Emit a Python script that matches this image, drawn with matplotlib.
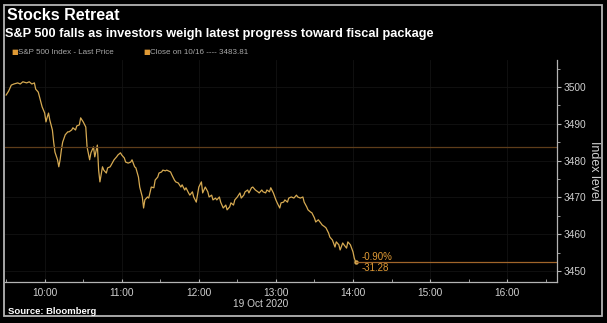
import pandas as pd
import matplotlib
matplotlib.use("Agg")
import matplotlib.pyplot as plt
import matplotlib.dates as mdates
from matplotlib.patches import Rectangle
from matplotlib.ticker import MultipleLocator

session_day = "2020-10-19"
session_open = "09:30"

# minutes after the open, with the S&P 500 print at that minute
minutes = [0, 2, 4, 6, 9, 11, 13, 16, 18, 20,
           22, 23, 25, 26, 28, 30, 31, 32, 33, 34,
           36, 37, 38, 40, 41, 42, 43, 44, 46, 48,
           49, 51, 52, 54, 55, 57, 58, 60, 62, 63,
           65, 66, 68, 69, 71, 72, 73, 75, 76, 78,
           79, 81, 83, 84, 86, 87, 89, 90, 92, 93,
           95, 97, 98, 100, 101, 103, 104, 106, 107, 108,
           110, 111, 113, 115, 116, 118, 119, 121, 122, 124,
           125, 128, 129, 131, 132, 134, 136, 137, 139, 140,
           142, 143, 145, 146, 148, 150, 152, 153, 155, 157,
           158, 160, 161, 163, 164, 166, 167, 169, 171, 172,
           174, 175, 177, 178, 180, 182, 183, 185, 186, 188,
           189, 191, 192, 194, 196, 197, 199, 200, 202, 203,
           205, 206, 208, 210, 211, 213, 214, 216, 217, 219,
           220, 222, 224, 226, 227, 229, 231, 232, 234, 235,
           237, 238, 240, 241, 243, 245, 246, 248, 249, 251,
           252, 254, 256, 257, 259, 260, 262, 263, 265, 266,
           268, 270, 271, 272]
prices = [3497.8, 3498.9, 3500.5, 3500.8, 3501.1, 3500.8, 3501.4, 3501.1, 3501.4, 3500.8,
          3501.1, 3499.4, 3498.6, 3497.3, 3494.6, 3492.9, 3490.5, 3491.8, 3492.9, 3491.0,
          3488.3, 3485.0, 3482.3, 3480.2, 3478.3, 3480.2, 3482.9, 3485.0, 3487.0, 3487.8,
          3487.8, 3488.3, 3488.9, 3488.3, 3489.4, 3489.7, 3491.6, 3490.5, 3489.1, 3483.7,
          3480.2, 3482.1, 3483.7, 3481.0, 3484.2, 3477.4, 3474.2, 3478.3, 3477.4, 3476.6,
          3478.0, 3478.3, 3479.6, 3480.2, 3481.0, 3481.5, 3482.1, 3481.5, 3480.7, 3479.6,
          3479.3, 3479.6, 3480.2, 3478.3, 3478.0, 3475.5, 3472.8, 3470.1, 3467.1, 3469.3,
          3470.1, 3469.8, 3472.8, 3472.6, 3474.7, 3475.5, 3476.6, 3476.9, 3477.4, 3477.2,
          3477.4, 3476.9, 3476.1, 3474.7, 3474.2, 3473.9, 3472.8, 3473.4, 3472.0, 3472.6,
          3471.2, 3470.6, 3471.5, 3470.1, 3468.7, 3472.8, 3474.2, 3471.2, 3472.8, 3471.5,
          3470.1, 3470.6, 3469.3, 3469.8, 3469.3, 3470.1, 3468.7, 3467.1, 3467.9, 3466.6,
          3467.4, 3468.5, 3467.9, 3469.3, 3470.1, 3471.2, 3469.8, 3470.6, 3471.5, 3472.0,
          3471.2, 3472.6, 3472.8, 3472.0, 3471.5, 3471.2, 3472.0, 3471.5, 3471.2, 3472.0,
          3471.5, 3472.6, 3471.2, 3469.3, 3468.5, 3467.1, 3468.5, 3468.7, 3469.3, 3468.7,
          3469.8, 3470.1, 3469.8, 3470.6, 3470.1, 3469.8, 3470.1, 3468.7, 3467.4, 3466.6,
          3466.0, 3465.8, 3464.4, 3463.3, 3463.9, 3463.0, 3462.5, 3462.0, 3461.7, 3460.3,
          3459.2, 3458.4, 3456.5, 3457.9, 3457.1, 3455.7, 3457.6, 3457.1, 3456.2, 3457.9,
          3457.1, 3455.2, 3453.5, 3452.53]

prev_close = 3483.81
prev_close_day = "10/16"

LINE = "#d6aa52"
ORANGE = "#e09a35"
CLOSE = "#5e3d1a"
TEXT = "#d0d0d0"
FRAME = "#b4b4b4"

start = pd.Timestamp(f"{session_day} {session_open}")
times = start + pd.to_timedelta(minutes, unit="min")
last_price = prices[-1]
change = last_price - prev_close
pct = change / prev_close * 100

fig = plt.figure(figsize=(6.07, 3.23), dpi=100, facecolor="black")
ax = fig.add_axes([0.008, 0.127, 0.910, 0.687], facecolor="black")

ax.plot(times, prices, color=LINE, lw=0.9)
ax.plot(times[-1], last_price, "o", color=LINE, ms=2.2)

# previous close and the line carried from the last print
ax.axhline(prev_close, color=CLOSE, lw=0.9)
ax.plot([times[-1], pd.Timestamp(f"{session_day} 16:40")], [last_price, last_price],
        color="#a0652a", lw=0.9)

ax.annotate(f"{pct:.2f}%", xy=(times[-1], last_price), xytext=(4.5, 3.5),
            textcoords="offset points", color=ORANGE, fontsize=7,
            family="Liberation Sans", va="center", ha="left")
ax.annotate(f"{change:.2f}", xy=(times[-1], last_price), xytext=(4.5, -4.5),
            textcoords="offset points", color=ORANGE, fontsize=7,
            family="Liberation Sans", va="center", ha="left")

ax.set_xlim(pd.Timestamp(f"{session_day} 09:29"), pd.Timestamp(f"{session_day} 16:39"))
ax.set_ylim(3447.0, 3507.3)

ax.xaxis.set_major_locator(mdates.HourLocator())
ax.xaxis.set_minor_locator(mdates.MinuteLocator(byminute=[30]))
ax.xaxis.set_major_formatter(mdates.DateFormatter("%H:%M"))
ax.yaxis.tick_right()
ax.yaxis.set_label_position("right")
ax.yaxis.set_major_locator(MultipleLocator(10))
ax.yaxis.set_minor_locator(MultipleLocator(5))

ax.grid(True, which="major", color="#131313", lw=0.6)
for side in ["left", "top"]:
    ax.spines[side].set_visible(False)
for side in ["right", "bottom"]:
    ax.spines[side].set_color(FRAME)
    ax.spines[side].set_linewidth(0.9)

ax.tick_params(axis="x", which="both", direction="in", length=2, color=FRAME,
               labelcolor=TEXT, labelsize=7.3, pad=4)
ax.tick_params(axis="y", which="major", direction="out", length=3, color=FRAME,
               labelcolor=TEXT, labelsize=7.3, pad=1.5)
ax.tick_params(axis="y", which="minor", direction="out", length=2, color=FRAME)
for lab in ax.get_xticklabels() + ax.get_yticklabels():
    lab.set_family("Liberation Sans")

ax.set_ylabel("Index level", rotation=270, color=TEXT, fontsize=9,
              family="Liberation Sans", labelpad=10)

# date under the 13:00 tick
day_label = start.strftime("%d %b %Y").lstrip("0")
ax.text(pd.Timestamp(f"{session_day} 13:10"), -0.075, day_label,
        transform=ax.get_xaxis_transform(), ha="right", va="top",
        color=TEXT, fontsize=7.3, family="Liberation Sans")

fig.text(0.012, 0.952, "Stocks Retreat", color="white", fontsize=11.5,
         weight="bold", family="Liberation Sans", va="center")
fig.text(0.008, 0.895, "S&P 500 falls as investors weigh latest progress toward fiscal package",
         color="white", fontsize=9.2, weight="bold", family="Liberation Sans", va="center")

fig.text(0.019, 0.838, "\u25a0", color=ORANGE, fontsize=5, va="center")
fig.text(0.030, 0.838, "S&P 500 Index - Last Price", color="#a8a8a8", fontsize=5.8,
         family="Liberation Sans", va="center")
fig.text(0.236, 0.838, "\u25a0", color=ORANGE, fontsize=5, va="center")
fig.text(0.247, 0.838, f"Close on {prev_close_day} ---- {prev_close:.2f}", color="#a8a8a8",
         fontsize=5.8, family="Liberation Sans", va="center")

fig.text(0.013, 0.037, "Source: Bloomberg", color="white", fontsize=6.8,
         weight="bold", family="Liberation Sans", va="center")

fig.add_artist(Rectangle((0.0074, 0.0217), 0.984, 0.963, transform=fig.transFigure,
                         fill=False, ec=FRAME, lw=1.3))

fig.savefig("out.png", dpi=100, facecolor="black")
